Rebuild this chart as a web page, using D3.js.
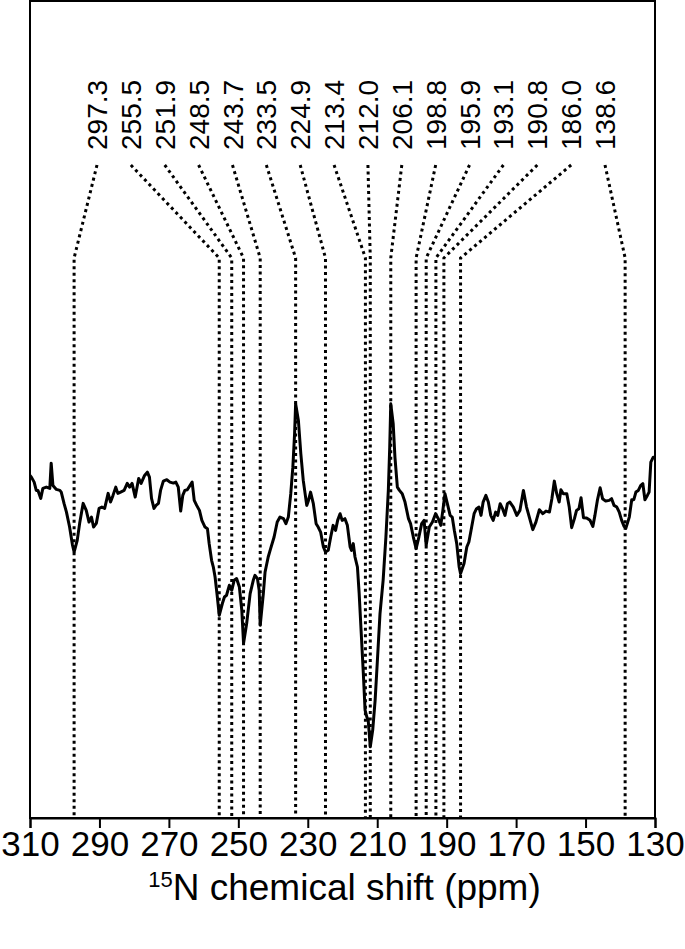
<!DOCTYPE html>
<html><head><meta charset="utf-8">
<script src="https://cdn.jsdelivr.net/npm/d3@7"></script>
<style>body{margin:0;background:#fff}</style>
</head><body>
<svg id="c" width="685" height="949"></svg>
<script>
const shiftPpm = [310.0,309.6,308.8,308.2,307.7,306.9,306.3,305.3,304.3,303.9,303.4,302.4,301.4,301.0,300.2,299.5,298.6,297.8,297.3,296.4,295.7,294.7,293.8,293.0,292.3,291.7,290.9,290.1,289.3,288.5,287.5,286.8,286.1,285.3,284.7,283.9,282.9,282.0,281.3,280.6,279.7,278.7,278.0,277.0,276.2,275.6,275.0,274.3,273.7,273.0,272.4,271.6,270.6,269.7,268.7,268.0,267.3,266.6,266.0,265.4,264.7,263.9,263.3,262.7,262.0,261.2,260.5,259.6,258.9,258.4,257.7,257.2,256.7,256.1,255.5,254.6,254.0,253.4,252.6,251.9,251.2,250.5,249.7,249.0,248.5,247.6,246.6,245.7,245.2,244.5,244.0,243.7,242.8,242.3,241.4,240.7,239.7,238.8,238.0,237.0,236.3,235.6,234.9,234.3,233.8,233.5,232.7,232.0,231.3,230.3,229.8,229.2,228.4,227.6,227.0,226.3,225.5,224.9,224.1,223.4,222.7,222.0,221.4,220.7,220.1,219.3,218.6,217.8,217.4,216.9,216.4,215.7,215.2,214.6,214.0,213.5,213.0,212.6,212.0,211.3,210.6,210.0,209.2,208.3,207.5,206.8,206.4,206.1,205.4,204.9,204.2,203.6,202.8,202.0,201.0,200.4,199.6,198.8,198.0,197.2,196.5,195.9,195.0,194.1,193.2,192.4,191.7,191.1,190.5,189.8,189.0,188.4,187.8,187.1,186.4,186.0,185.0,184.2,183.6,182.8,182.1,181.4,180.7,180.1,179.5,178.7,178.0,177.3,176.6,175.9,175.3,174.6,173.9,173.2,172.5,171.8,170.8,169.8,168.9,167.9,167.0,166.2,165.2,164.3,163.3,162.3,161.4,160.4,159.7,159.0,158.3,157.6,157.1,156.4,155.4,154.7,154.0,153.2,152.6,151.9,151.3,150.6,149.7,148.7,147.9,147.3,146.6,145.8,145.1,144.2,143.2,142.5,141.8,141.0,140.3,139.6,138.9,138.4,137.4,136.7,136.1,135.5,134.8,134.1,133.5,132.9,132.2,131.7,131.2,130.5,130.0];
const intensity = [1.5,1.33,0.83,0,0,-0.8,0.2,0.33,0.2,2.73,0.5,0.1,0,-0.17,-1.3,-2.17,-3.67,-5.4,-6.17,-5.0,-3.3,-1.3,-2.0,-3.17,-2.67,-3.67,-3.3,-1.8,-1.67,-1.8,-0.3,-1.17,-0.5,0.33,-0.3,-0.17,0,0.7,0.33,0.7,-0.67,1.2,0.7,1.5,1.83,1.33,-0.8,-1.8,-1.5,-1.3,0,0.93,1.07,0.83,0.73,0.83,0.33,-2.07,-0.5,0,0.07,0.5,0.83,-1.0,-1.5,-2.0,-3.0,-3.67,-3.83,-5.33,-7.0,-7.67,-8.67,-10.5,-12.5,-11.33,-10.67,-10.5,-9.5,-10.0,-9.0,-8.83,-9.67,-12.0,-15.3,-13.33,-10.33,-9.0,-8.5,-8.83,-10.0,-13.5,-10.33,-8.17,-6.67,-5.83,-4.67,-3.17,-2.67,-2.83,-3.33,-2.67,-0.33,2.33,5.67,8.67,7.0,3.67,1.0,-1.5,-1.0,-0.17,-1.33,-3.33,-3.67,-4.17,-5.67,-6.17,-6.0,-4.67,-3.5,-4.0,-3.0,-2.33,-3.0,-2.83,-3.5,-5.67,-6.0,-5.33,-6.67,-7.67,-10.33,-14.33,-18.33,-22.0,-22.67,-23.0,-25.67,-24.0,-21.0,-17.33,-12.33,-9.0,-4.67,0,4.33,8.67,6.67,3.33,0.33,0,-0.33,-1.17,-2.83,-3.33,-4.67,-5.83,-4.67,-3.33,-3.0,-5.5,-3.67,-3.17,-2.33,-2.83,-3.5,-2.0,-0.33,-1.33,-2.5,-2.67,-4.0,-5.33,-7.67,-8.33,-7.33,-5.67,-5.17,-3.67,-2.33,-1.83,-1.67,-2.5,-1.17,-0.5,-1.17,-2.5,-3.0,-2.17,-2.5,-1.33,-1.83,-2.5,-1.33,-1.17,-1.67,-2.5,-2.0,0,-1.67,-2.67,-3.93,-3.17,-1.93,-2.33,-2.07,-2.17,-0.83,0.93,-0.33,-1.17,0.07,-0.33,-0.33,-1.67,-3.73,-2.83,-2.0,-1.83,-0.73,-2.73,-2.77,-3.0,-3.6,-2.5,-1.0,0.27,-0.83,-1.07,-1.0,-0.83,-1.5,-1.67,-2.17,-3.0,-3.6,-3.8,-2.67,-0.93,-0.93,-0.17,0,0.5,0.67,-0.93,-0.5,-0.17,2.83,3.33,3.33];
const peakShifts = [297.3,255.5,251.9,248.5,243.7,233.5,224.9,213.4,212.0,206.1,198.8,195.9,193.1,190.8,186.0,138.6];
const xTicks = [310,290,270,250,230,210,190,170,150,130];
const xTitleSup = "15";
const xTitleMain = "N chemical shift (ppm)";

const svg = d3.select("#c");
const L = 30, R = 655, T = 1, B = 818;
const x = d3.scaleLinear().domain([310,130]).range([L,R]);
const y = d3.scaleLinear().domain([-32.8,49]).range([B,T]);
const slot = d3.scalePoint().domain(peakShifts.map(d=>d.toFixed(1))).range([97,605]);

// leader lines
const leadTop = 165, leadBend = 258;
svg.append("g").selectAll("path").data(peakShifts).join("path")
  .attr("d", d => `M${slot(d.toFixed(1))},${leadTop}L${x(d)},${leadBend}L${x(d)},${B}`)
  .attr("fill","none").attr("stroke","#000").attr("stroke-width",3)
  .attr("stroke-dasharray","3,3.5");

// peak labels
svg.append("g").selectAll("text").data(peakShifts).join("text")
  .attr("transform", d => `translate(${slot(d.toFixed(1))},150) rotate(-90)`)
  .attr("dy","0.36em")
  .attr("font-family","Liberation Sans, Arial, sans-serif")
  .attr("font-size",28)
  .text(d => d.toFixed(1));

// spectrum
const pts = shiftPpm.map((s,i)=>[s,intensity[i]]);
svg.append("path").datum(pts)
  .attr("d", d3.line().x(d=>x(d[0])).y(d=>y(d[1])))
  .attr("fill","none").attr("stroke","#000").attr("stroke-width",3)
  .attr("stroke-linejoin","round");

// frame
svg.append("rect").attr("x",L).attr("y",T).attr("width",R-L).attr("height",B-T)
  .attr("fill","none").attr("stroke","#000").attr("stroke-width",2);

// axis
const ax = svg.append("g").attr("transform",`translate(0,${B})`)
  .call(d3.axisBottom(x).tickValues(xTicks).tickSize(10).tickPadding(3).tickFormat(d3.format("d")));
ax.select(".domain").attr("stroke-width",2);
ax.selectAll(".tick line").attr("stroke-width",2);
ax.selectAll(".tick text").attr("font-family","Liberation Sans, Arial, sans-serif").attr("font-size",35).attr("fill","#000");

const title = svg.append("text").attr("x",(L+R)/2 + 2).attr("y",900).attr("text-anchor","middle")
  .attr("font-family","Liberation Sans, Arial, sans-serif").attr("font-size",37);
title.append("tspan").attr("font-size",22).attr("dy",-13).text(xTitleSup);
title.append("tspan").attr("dy",13).text(xTitleMain);
</script>
</body></html>
